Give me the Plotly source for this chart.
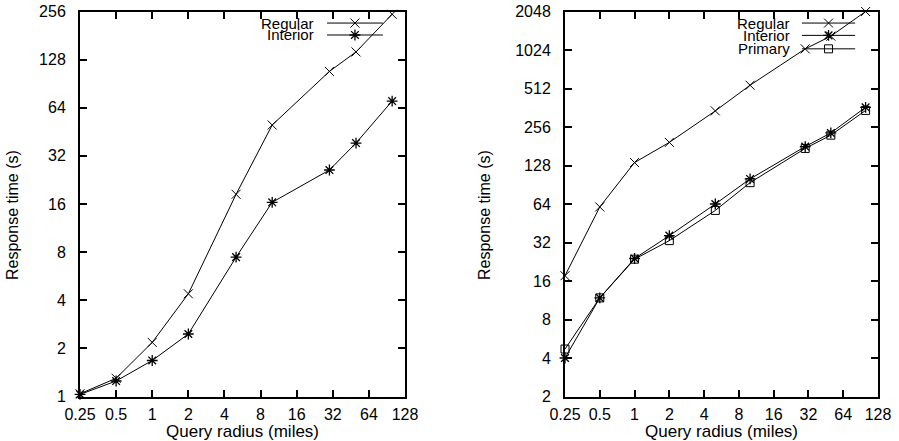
import math
import plotly.graph_objects as go

# ---------------- data ----------------
radius = [0.25, 0.5, 1, 2, 5, 10, 30, 50, 100]

left_regular = [1.04, 1.30, 2.18, 4.39, 18.4, 49.9, 108, 143, 246]
left_interior = [1.03, 1.25, 1.68, 2.46, 7.44, 16.4, 26.1, 38.5, 70.5]

right_regular = [17.6, 60.7, 135, 194, 342, 543, 1045, 1314, 2048]
right_interior = [4.0, 11.8, 24.0, 36.2, 64, 100.5, 180, 230, 365]
right_primary = [4.7, 11.8, 23.7, 33.1, 57, 94, 174, 221, 345]

x_ticks = [0.25, 0.5, 1, 2, 4, 8, 16, 32, 64, 128]
x_ticktext = ["0.25", "0.5", "1", "2", "4", "8", "16", "32", "64", "128"]
left_yticks = [1, 2, 4, 8, 16, 32, 64, 128, 256]
right_yticks = [2, 4, 8, 16, 32, 64, 128, 256, 512, 1024, 2048]

x_title = "Query radius (miles)"
y_title = "Response time (s)"

# ---------------- style ----------------
FONT = "Liberation Sans, Arial, Helvetica, sans-serif"
W, H = 899, 441
L_DOM = [80 / W, 405 / W]
R_DOM = [565 / W, 878 / W]
Y_DOM = [1 - 396.5 / H, 1 - 11.5 / H]
TICK_SIZE = 16
KEY_SIZE = 15

sym = {
    "Regular": dict(symbol="x-thin-open", size=9, line=dict(color="black", width=1), color="black"),
    "Interior": dict(symbol="asterisk-open", size=9, line=dict(color="black", width=1.3), color="black"),
    "Primary": dict(symbol="square-open", size=8, line=dict(color="black", width=1), color="black"),
}

fig = go.Figure()


def add_series(x, y, name, xa, ya):
    fig.add_trace(go.Scatter(
        x=x, y=y, mode="lines+markers", name=name,
        line=dict(color="black", width=1), marker=sym[name],
        xaxis=xa, yaxis=ya, showlegend=False, cliponaxis=False,
    ))


add_series(radius, left_regular, "Regular", "x", "y")
add_series(radius, left_interior, "Interior", "x", "y")
add_series(radius, right_regular, "Regular", "x2", "y2")
add_series(radius, right_interior, "Interior", "x2", "y2")
add_series(radius, right_primary, "Primary", "x2", "y2")

# ---------------- custom gnuplot-style keys ----------------
def add_key(names, xa, ya, xref, yref, text_x, line_x0, line_x1, rows):
    for name, ry in zip(names, rows):
        fig.add_trace(go.Scatter(
            x=[line_x0, line_x1], y=[ry, ry], mode="lines",
            line=dict(color="black", width=1), xaxis=xa, yaxis=ya,
            showlegend=False, hoverinfo="skip", cliponaxis=False,
        ))
        fig.add_trace(go.Scatter(
            x=[(line_x0 + line_x1) / 2], y=[ry], mode="markers",
            marker=sym[name], xaxis=xa, yaxis=ya,
            showlegend=False, hoverinfo="skip", cliponaxis=False,
        ))
        fig.add_annotation(
            x=text_x, y=ry, xref=xref + " domain", yref=yref + " domain",
            text=name, showarrow=False, xanchor="right", yanchor="middle",
            borderpad=0,
            font=dict(family=FONT, size=KEY_SIZE, color="black"),
        )


add_key(["Regular", "Interior"], "x3", "y3", "x", "y", 0.723, 0.76, 0.932, [0.970, 0.939])
add_key(["Regular", "Interior", "Primary"], "x4", "y4", "x2", "y2", 0.722, 0.757, 0.927,
        [0.970, 0.938, 0.903])

# ---------------- axis titles (as annotations, to place them like gnuplot) ----------------
for xr, xpix in (("x", 13), ("x2", 485)):
    fig.add_annotation(
        x=0.5, y=1 - 431 / H, xref=xr + " domain", yref="paper",
        text=x_title, showarrow=False, xanchor="center", yanchor="middle",
        borderpad=0, font=dict(family=FONT, size=17, color="black"),
    )
    fig.add_annotation(
        x=xpix / W, y=1 - 215 / H, xref="paper", yref="paper",
        text=y_title, showarrow=False, textangle=-90, xanchor="center", yanchor="middle",
        borderpad=0, font=dict(family=FONT, size=16, color="black"),
    )

# ---------------- axes ----------------
def xaxis(domain):
    return dict(
        type="log", domain=domain, range=[math.log10(0.25), math.log10(128)],
        tickvals=x_ticks, ticktext=x_ticktext, ticks="inside", ticklen=7, tickwidth=1.5,
        tickcolor="black", showline=True, linecolor="black", linewidth=2, mirror="allticks",
        showgrid=False, zeroline=False, automargin=False,
        tickfont=dict(family=FONT, size=TICK_SIZE, color="black"),
        ticklabelstandoff=2,
    )


def yaxis(rng, ticks):
    return dict(
        type="log", domain=Y_DOM, range=[math.log10(rng[0]), math.log10(rng[1])],
        tickvals=ticks, ticktext=[str(t) for t in ticks], ticks="inside", ticklen=7, tickwidth=1.5,
        tickcolor="black", showline=True, linecolor="black", linewidth=2, mirror="allticks",
        showgrid=False, zeroline=False, automargin=False,
        tickfont=dict(family=FONT, size=TICK_SIZE, color="black"),
        ticklabelstandoff=9,
    )


xa1 = xaxis(L_DOM); xa1["anchor"] = "y"
xa2 = xaxis(R_DOM); xa2["anchor"] = "y2"
ya1 = yaxis((1, 256), left_yticks); ya1["anchor"] = "x"
ya2 = yaxis((2, 2048), right_yticks); ya2["anchor"] = "x2"

overlay = dict(range=[0, 1], visible=False, showgrid=False, zeroline=False, fixedrange=True)

fig.update_layout(
    width=W, height=H,
    margin=dict(l=0, r=0, t=0, b=0, pad=0, autoexpand=False),
    paper_bgcolor="white", plot_bgcolor="white",
    xaxis=xa1, yaxis=ya1, xaxis2=xa2, yaxis2=ya2,
    xaxis3=dict(overlay, overlaying="x", anchor="y3"),
    yaxis3=dict(overlay, overlaying="y", anchor="x3"),
    xaxis4=dict(overlay, overlaying="x2", anchor="y4"),
    yaxis4=dict(overlay, overlaying="y2", anchor="x4"),
    showlegend=False,
    font=dict(family=FONT, color="black"),
)

fig.write_html(
    "out.html",
    post_script="document.body.style.margin='0';document.body.style.padding='0';",
)
